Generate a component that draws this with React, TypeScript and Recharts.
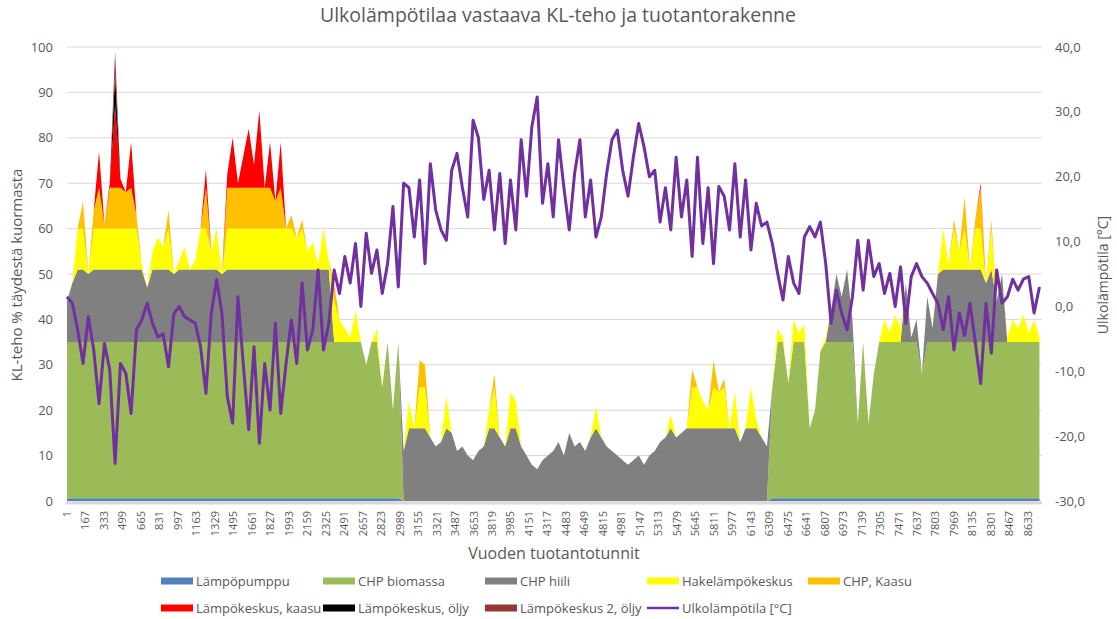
import { ComposedChart, Area, Line, XAxis, YAxis, CartesianGrid } from 'recharts';

// näyte joka 48. tunti, tunnista 1 alkaen
const NAYTEVALI = 48;

// KL-teho % täydestä kuormasta (kuorman yläreuna)
const kokonaisteho = [
  44, 48, 60, 66, 50, 64, 77, 61, 70, 99,
  71, 68, 79, 63, 52, 47, 55, 58, 56, 64,
  50, 53, 56, 51, 53, 60, 73, 55, 60, 50,
  72, 80, 70, 76, 82, 74, 86, 69, 79, 66,
  79, 60, 63, 58, 62, 55, 57, 52, 60, 53,
  48, 40, 38, 36, 42, 35, 30, 35, 38, 25,
  35, 20, 35, 11, 22, 16, 31, 30, 14, 12,
  13, 23, 15, 11, 12, 10, 9, 11, 12, 20,
  28, 14, 12, 24, 22, 12, 10, 8, 7, 9,
  10, 11, 13, 10, 15, 12, 13, 11, 14, 21,
  14, 12, 11, 10, 9, 8, 9, 10, 8, 10,
  11, 13, 14, 19, 14, 15, 16, 29, 25, 22,
  20, 31, 24, 27, 16, 24, 13, 16, 25, 18,
  14, 12, 25, 38, 36, 26, 40, 37, 39, 16,
  20, 33, 36, 42, 50, 45, 51, 40, 17, 35,
  17, 28, 35, 40, 37, 41, 38, 48, 36, 40,
  28, 45, 38, 50, 60, 52, 62, 55, 67, 51,
  62, 70, 48, 62, 44, 50, 36, 40, 38, 41,
  37, 40, 36,
];

// Ulkolämpötila [°C]
const ulkolampotila = [
  1.5, 0.5, -3.6, -8.8, -1.6, -6.7, -15, -5.7, -9.8, -24.2,
  -8.8, -10.3, -16.5, -3.6, -2.1, 0.5, -2.6, -4.7, -4.2, -9.3,
  -1.1, 0, -1.6, -2.1, -2.6, -6.2, -13.4, -1.1, 4.1, -1.1,
  -13.9, -18, 1.5, -9, -19, -6.2, -21.1, -8.8, -16, -2.6,
  -16.5, -8.8, -2.1, -8.8, 3.6, -6.7, -3.6, 5.6, -6.7, -2.6,
  5.6, 2, 7.7, 3.6, 9.7, 0, 11.3, 5.1, 8.7, 2,
  6.6, 15.4, 3, 19, 18.3, 10.7, 19.5, 6.6, 22, 14.9,
  11.8, 10.2, 21, 23.6, 18.3, 13.8, 28.7, 26, 16.5, 21,
  11.8, 20.5, 9.7, 19.5, 11.8, 25.7, 17, 27.7, 32.3, 15.9,
  22, 13.8, 25.7, 18.3, 11.8, 20.5, 25.7, 13.8, 19.5, 10.7,
  13.8, 20.5, 25.7, 27.2, 21, 17, 23, 28.2, 24.6, 20,
  21, 13, 18.3, 11.8, 23, 13.8, 19.5, 7.7, 23, 9.7,
  18.3, 6.6, 18.5, 17, 11.8, 22, 10.7, 19.5, 8.7, 15.9,
  12.4, 13, 9.7, 5.1, 1, 7.7, 3.6, 2, 10.7, 12.3,
  10.7, 13, 6.6, -2.6, 2.5, -1.1, -3.6, 1.5, 10.2, 2.5,
  10.2, 4.6, 6.6, 2, 5.1, 0, 6.1, -2.6, 4.6, 6.6,
  4.6, 3.6, 2, 0.5, -3.6, 1.5, -6.7, -1, -4.5, 0.5,
  -5.6, -11.9, 0.5, -7.2, 5.6, 0.5, 1.5, 4.2, 2.5, 4.2,
  4.6, -1, 3,
];

const xTikit = [
  1, 167, 333, 499, 665, 831, 997, 1163, 1329, 1495, 1661, 1827, 1993, 2159,
  2325, 2491, 2657, 2823, 2989, 3155, 3321, 3487, 3653, 3819, 3985, 4151, 4317,
  4483, 4649, 4815, 4981, 5147, 5313, 5479, 5645, 5811, 5977, 6143, 6309, 6475,
  6641, 6807, 6973, 7139, 7305, 7471, 7637, 7803, 7969, 8135, 8301, 8467, 8633,
];
const vasenTikit = [0, 10, 20, 30, 40, 50, 60, 70, 80, 90, 100];
const oikeaTikit = [-30, -20, -10, 0, 10, 20, 30, 40];

// mitkä laitokset ovat ajossa milloinkin (alkutunti)
const kaudet = [
  { alku: 1, tila: 'talvi' },
  { alku: 2401, tila: 'ilmanHiilta' },
  { alku: 3025, tila: 'kesa' },
  { alku: 6337, tila: 'ilmanHiilta' },
  { alku: 6865, tila: 'talvi' },
  { alku: 7105, tila: 'ilmanHiilta' },
  { alku: 7537, tila: 'talvi' },
  { alku: 8449, tila: 'ilmanHiilta' },
];

// tasojen koko kuvasta luettuna (% täydestä kuormasta)
const kapasiteetit: Record<string, number> = {
  lampopumppu: 0.6,
  biomassa: 34.4,
  hiili: 16,
  hake: 9,
  chpKaasu: 9,
  lkKaasu: 18,
  lkOljy: 7,
  lk2Oljy: 100,
};

const ajojarjestys: Record<string, string[]> = {
  talvi: ['lampopumppu', 'biomassa', 'hiili', 'hake', 'chpKaasu', 'lkKaasu', 'lkOljy', 'lk2Oljy'],
  ilmanHiilta: ['lampopumppu', 'biomassa', 'hake', 'chpKaasu', 'lkKaasu', 'lkOljy', 'lk2Oljy'],
  kesa: ['hiili', 'hake', 'chpKaasu', 'lkKaasu', 'lkOljy', 'lk2Oljy'],
};

const sarjat = [
  { key: 'lampopumppu', nimi: 'Lämpöpumppu', vari: '#4F81BD' },
  { key: 'biomassa', nimi: 'CHP biomassa', vari: '#9BBB59' },
  { key: 'hiili', nimi: 'CHP hiili', vari: '#808080' },
  { key: 'hake', nimi: 'Hakelämpökeskus', vari: '#FFFF00' },
  { key: 'chpKaasu', nimi: 'CHP, Kaasu', vari: '#FFC000' },
  { key: 'lkKaasu', nimi: 'Lämpökeskus, kaasu', vari: '#FF0000' },
  { key: 'lkOljy', nimi: 'Lämpökeskus, öljy', vari: '#000000' },
  { key: 'lk2Oljy', nimi: 'Lämpökeskus 2, öljy', vari: '#953735' },
];
const LAMPOTILA_VARI = '#7030A0';
const TEKSTI = '#595959';
const FONTTI = '"Open Sans", sans-serif';

const data = kokonaisteho.map((teho, i) => {
  const tunti = 1 + i * NAYTEVALI;
  const tila = kaudet.filter((k) => k.alku <= tunti).pop()!.tila;
  const rivi: Record<string, number> = { tunti, lampotila: ulkolampotila[i] };
  sarjat.forEach((s) => (rivi[s.key] = 0));
  let jaljella = teho;
  for (const key of ajojarjestys[tila]) {
    const osuus = Math.min(jaljella, kapasiteetit[key]);
    rivi[key] = osuus;
    jaljella -= osuus;
  }
  return rivi;
});

const XTikki = ({ x, payload }: any) => (
  <text
    x={x}
    y={511}
    dy={4}
    transform={`rotate(-90 ${x} 511)`}
    textAnchor="end"
    fontSize={11}
    fontFamily={FONTTI}
    fill={TEKSTI}
  >
    {payload.value}
  </text>
);

const VasenTikki = ({ y, payload }: any) => (
  <text x={53} y={y} dy={4.5} textAnchor="end" fontSize={13} fontFamily={FONTTI} fill={TEKSTI}>
    {payload.value}
  </text>
);

const OikeaTikki = ({ y, payload }: any) => (
  <text x={1055} y={y} dy={4.5} textAnchor="start" fontSize={13} fontFamily={FONTTI} fill={TEKSTI}>
    {payload.value.toFixed(1).replace('.', ',')}
  </text>
);

const selitePaikat = [161, 323, 485, 647, 808];
const seliteRivit = [581, 608];

export default function App() {
  const selite = [...sarjat.map((s) => ({ nimi: s.nimi, vari: s.vari, viiva: false })), { nimi: 'Ulkolämpötila [°C]', vari: LAMPOTILA_VARI, viiva: true }];
  return (
    <div style={{ position: 'absolute', left: 0, top: 0, width: 1117, height: 619, background: '#fff' }}>
      <ComposedChart width={1117} height={619} data={data} margin={{ top: 47, right: 5, bottom: 68, left: 7 }}>
        <CartesianGrid yAxisId="left" vertical={false} stroke="#d9d9d9" />
        <XAxis
          dataKey="tunti"
          type="number"
          domain={[1, 8760]}
          ticks={xTikit}
          interval={0}
          height={50}
          tick={<XTikki />}
          tickLine={false}
          axisLine={false}
        />
        <YAxis yAxisId="left" domain={[0, 100]} ticks={vasenTikit} width={60} tick={<VasenTikki />} axisLine={false} tickLine={false} />
        <YAxis
          yAxisId="right"
          orientation="right"
          domain={[-30, 40]}
          ticks={oikeaTikit}
          width={70}
          tick={<OikeaTikki />}
          axisLine={false}
          tickLine={false}
        />
        {sarjat.map((s) => (
          <Area
            key={s.key}
            yAxisId="left"
            type="linear"
            dataKey={s.key}
            name={s.nimi}
            stackId="kuorma"
            fill={s.vari}
            fillOpacity={1}
            stroke="none"
            activeDot={false}
            isAnimationActive={false}
          />
        ))}
        <Line
          yAxisId="right"
          type="linear"
          dataKey="lampotila"
          name="Ulkolämpötila [°C]"
          stroke={LAMPOTILA_VARI}
          strokeWidth={3}
          strokeLinejoin="round"
          dot={false}
          activeDot={false}
          isAnimationActive={false}
        />
      </ComposedChart>
      <svg width={1117} height={619} style={{ position: 'absolute', left: 0, top: 0, pointerEvents: 'none' }}>
        {/* vaaka-akselin viiva */}
        <rect x={66} y={501.5} width={976} height={3} fill="#d9d9d9" />
        <text x={558} y={22} textAnchor="middle" fontSize={19.5} fontFamily={FONTTI} fill={TEKSTI}>
          Ulkolämpötilaa vastaava KL-teho ja tuotantorakenne
        </text>
        <text x={554} y={559} textAnchor="middle" fontSize={16} fontFamily={FONTTI} fill={TEKSTI}>
          Vuoden tuotantotunnit
        </text>
        <text x={22} y={275} transform="rotate(-90 22 275)" textAnchor="middle" fontSize={15} fontFamily={FONTTI} fill={TEKSTI}>
          KL-teho % täydestä kuormasta
        </text>
        <text x={1108} y={275} transform="rotate(-90 1108 275)" textAnchor="middle" fontSize={14} fontFamily={FONTTI} fill={TEKSTI}>
          Ulkolämpötila [°C]
        </text>
        {selite.map((s, i) => {
          const x = selitePaikat[i % 5];
          const y = seliteRivit[Math.floor(i / 5)];
          return (
            <g key={s.nimi}>
              {s.viiva ? (
                <line x1={x} x2={x + 32} y1={y} y2={y} stroke={s.vari} strokeWidth={2.5} />
              ) : (
                <rect x={x} y={y - 3.5} width={32} height={7} fill={s.vari} />
              )}
              <text x={x + 35} y={y} dy={4.5} fontSize={13} fontFamily={FONTTI} fill={TEKSTI}>
                {s.nimi}
              </text>
            </g>
          );
        })}
      </svg>
    </div>
  );
}
